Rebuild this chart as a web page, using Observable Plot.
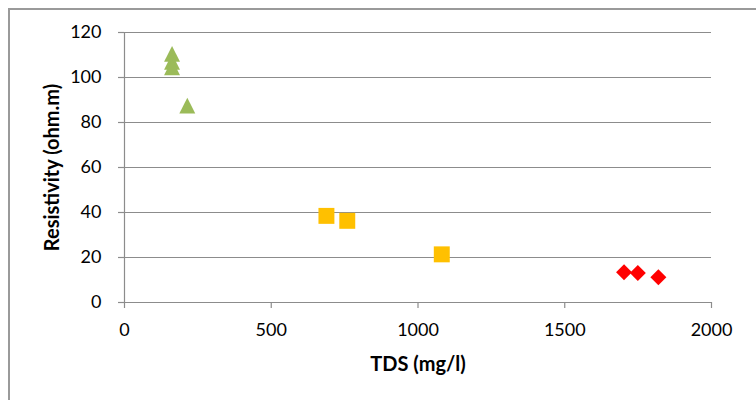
<!DOCTYPE html>
<html><head><meta charset="utf-8">
<script src="https://cdn.jsdelivr.net/npm/d3@7"></script>
<script src="https://cdn.jsdelivr.net/npm/@observablehq/plot@0.6"></script>
<style>
html,body{margin:0;padding:0;background:#fff;}
#wrap{position:relative;width:756px;height:400px;overflow:hidden;background:#fff;}
#frame{position:absolute;left:8px;top:8px;width:820px;height:450px;border-left:2px solid #9a9a9a;border-top:2px solid #9a9a9a;pointer-events:none;}
</style></head><body>
<div id="wrap"></div>
<script>
// Data
const greenTDS = [162, 162, 162, 214];
const greenRes = [110.5, 107, 104.5, 87.5];
const orangeTDS = [688, 759, 1081];
const orangeRes = [38.5, 36.3, 21.4];
const redTDS = [1702, 1749, 1819];
const redRes = [13.4, 13.1, 11.2];
const xTicks = [0, 500, 1000, 1500, 2000];
const yTicks = [0, 20, 40, 60, 80, 100, 120];
const xTitle = "TDS (mg/l)";
const yTitle = "Resistivity (ohm.m)";

const toRows = (xs, ys) => xs.map((x, i) => ({x, y: ys[i]}));
const green = toRows(greenTDS, greenRes);
const orange = toRows(orangeTDS, orangeRes);
const red = toRows(redTDS, redRes);

const triSym = {draw(ctx, size) { const s = Math.sqrt(size); ctx.moveTo(0, -s / 2); ctx.lineTo(s / 2, s / 2); ctx.lineTo(-s / 2, s / 2); ctx.closePath(); }};
const sqSym = {draw(ctx, size) { const s = Math.sqrt(size) / 2; ctx.rect(-s, -s, 2 * s, 2 * s); }};
const diaSym = {draw(ctx, size) { const s = Math.sqrt(size) / 2; ctx.moveTo(0, -s); ctx.lineTo(s, 0); ctx.lineTo(0, s); ctx.lineTo(-s, 0); ctx.closePath(); }};

const gray = "#8c8c8c";
const chart = Plot.plot({
  width: 756, height: 400,
  marginLeft: 124, marginRight: 45, marginTop: 32, marginBottom: 98,
  style: {fontFamily: "Lato", fontSize: "18px", color: "#000", background: "transparent"},
  x: {domain: [0, 2000], label: null},
  y: {domain: [0, 120], label: null},
  marks: [
    Plot.ruleY(yTicks.filter(d => d > 0), {stroke: gray, strokeWidth: 1.2}),
    Plot.ruleY([0], {stroke: gray, strokeWidth: 1.2}),
    Plot.ruleX([0], {stroke: gray, strokeWidth: 1.2}),
    Plot.axisX({ticks: xTicks, tickSize: 6, tickPadding: 15, stroke: gray, strokeWidth: 1.2, label: null, tickFormat: d => String(d)}),
    Plot.axisY({ticks: yTicks, tickSize: 6, tickPadding: 17, stroke: gray, strokeWidth: 1.2, label: null, tickFormat: d => String(d)}),
    Plot.text([xTitle], {frameAnchor: "bottom", dy: 62, fontWeight: "bold", fontSize: 20, lineAnchor: "middle", textAnchor: "middle"}),
    Plot.text([yTitle], {frameAnchor: "left", dx: -72, rotate: -90, fontWeight: "bold", fontSize: 20, lineAnchor: "middle", textAnchor: "middle"}),
    Plot.dot(green, {x: "x", y: "y", symbol: triSym, r: 9, fill: "#9BBB59", stroke: null}),
    Plot.dot(orange, {x: "x", y: "y", symbol: sqSym, r: 9, fill: "#FFC000", stroke: null}),
    Plot.dot(red, {x: "x", y: "y", symbol: diaSym, r: 9, fill: "#FF0000", stroke: null})
  ]
});
const wrap = document.getElementById("wrap");
wrap.appendChild(chart);
const frame = document.createElement("div");
frame.id = "frame";
wrap.appendChild(frame);
</script>
</body></html>
